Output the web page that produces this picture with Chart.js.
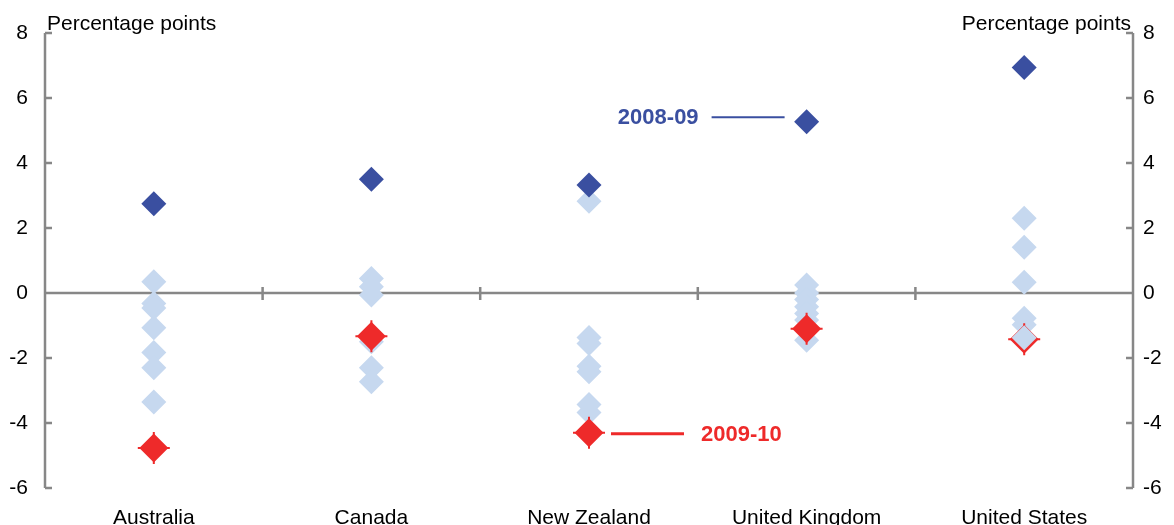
<!DOCTYPE html>
<html><head><meta charset="utf-8">
<script src="https://cdn.jsdelivr.net/npm/chart.js@4.4.1/dist/chart.umd.min.js"></script>
<style>html,body{margin:0;padding:0;background:#fff}</style>
</head><body>
<canvas id="c" width="1174" height="525"></canvas>
<script>
const categories = ['Australia', 'Canada', 'New Zealand', 'United Kingdom', 'United States'];
const yTicks = [-6, -4, -2, 0, 2, 4, 6, 8];
const fy0809 = [2.75, 3.5, 3.32, 5.27, 6.94];
const fy0910 = [-4.77, -1.33, -4.3, -1.1, -1.42];
const otherAustralia = [0.35, -0.32, -0.46, -1.07, -1.83, -2.3, -3.35];
const otherCanada = [0.45, 0.19, -0.06, -1.5, -2.3, -2.73];
const otherNewZealand = [2.82, -1.37, -1.55, -2.25, -2.42, -3.43, -3.68];
const otherUK = [0.25, 0, -0.2, -0.42, -0.63, -0.83, -1.45];
const otherUS = [2.3, 1.41, 0.33, -0.78, -0.98];
const otherUSFront = [-1.38];
const titleText = 'Percentage points';
const label0809 = '2008-09';
const label0910 = '2009-10';

const BLUE = '#3A4FA0', LIGHT = '#C6D8EF', RED = '#EE2A2A', GREY = '#878787';
const FONT = '"Liberation Sans", Arial, sans-serif';

const toPts = (cat, arr) => arr.map(v => ({x: cat, y: v}));
const lightPts = [].concat(
  toPts(categories[0], otherAustralia),
  toPts(categories[1], otherCanada),
  toPts(categories[2], otherNewZealand),
  toPts(categories[3], otherUK),
  toPts(categories[4], otherUS)
);
const bluePts = fy0809.map((v, i) => ({x: categories[i], y: v}));
const redPts = fy0910.map((v, i) => ({x: categories[i], y: v}));
const frontPts = toPts(categories[4], otherUSFront);

function ds(label, data, style, radius, color, bw) {
  return {label, data, showLine: false, pointStyle: style, pointRadius: radius, pointHoverRadius: radius,
    pointBackgroundColor: color, pointBorderColor: color, pointBorderWidth: bw || 0,
    backgroundColor: color, borderColor: color};
}

const decor = {
  id: 'decor',
  beforeDatasetsDraw(chart) {
    const {ctx, chartArea: a, scales: {x, y}} = chart;
    ctx.save();
    ctx.strokeStyle = GREY;
    ctx.lineWidth = 2.5;
    const top = y.getPixelForValue(yTicks[yTicks.length - 1]);
    const bot = y.getPixelForValue(yTicks[0]);
    ctx.beginPath();
    ctx.moveTo(a.left, top); ctx.lineTo(a.left, bot);
    ctx.moveTo(a.right, top); ctx.lineTo(a.right, bot);
    yTicks.forEach(t => {
      const py = y.getPixelForValue(t);
      ctx.moveTo(a.left, py); ctx.lineTo(a.left + 7, py);
      ctx.moveTo(a.right, py); ctx.lineTo(a.right - 7, py);
    });
    const zy = y.getPixelForValue(0);
    ctx.moveTo(a.left, zy); ctx.lineTo(a.right, zy);
    for (let i = 0; i < categories.length - 1; i++) {
      const px = (x.getPixelForValue(i) + x.getPixelForValue(i + 1)) / 2;
      ctx.moveTo(px, zy - 6); ctx.lineTo(px, zy + 7);
    }
    ctx.stroke();
    ctx.restore();
  },
  afterDraw(chart) {
    const {ctx, chartArea: a, scales: {x, y}} = chart;
    ctx.save();
    ctx.fillStyle = '#000';
    ctx.font = '21px ' + FONT;
    ctx.textBaseline = 'alphabetic';
    ctx.textAlign = 'left';
    ctx.fillText(titleText, a.left + 2, 30);
    ctx.textAlign = 'right';
    ctx.fillText(titleText, a.right - 2, 30);

    // 2008-09 label pointing to UK
    const ukX = x.getPixelForValue(3);
    const by = y.getPixelForValue(fy0809[3]) - 4.5;
    ctx.strokeStyle = BLUE; ctx.lineWidth = 2;
    ctx.beginPath(); ctx.moveTo(ukX - 95, by); ctx.lineTo(ukX - 22, by); ctx.stroke();
    ctx.fillStyle = BLUE; ctx.font = 'bold 22px ' + FONT;
    ctx.textAlign = 'right'; ctx.textBaseline = 'middle';
    ctx.fillText(label0809, ukX - 108, by + 1);

    // 2009-10 label pointing to New Zealand
    const nzX = x.getPixelForValue(2);
    const ry = y.getPixelForValue(fy0910[2]) + 1;
    ctx.strokeStyle = RED; ctx.lineWidth = 3;
    ctx.beginPath(); ctx.moveTo(nzX + 22, ry); ctx.lineTo(nzX + 95, ry); ctx.stroke();
    ctx.fillStyle = RED; ctx.textAlign = 'left';
    ctx.fillText(label0910, nzX + 112, ry + 1);
    ctx.restore();
  }
};

new Chart(document.getElementById('c'), {
  type: 'line',
  data: {
    labels: categories,
    datasets: [
      ds('front', frontPts, 'rectRot', 12.5, LIGHT),
      ds('2009-10', redPts, 'rectRot', 14.5, RED),
      ds('2009-10 cross', redPts, 'cross', 16, RED, 2),
      ds('2008-09', bluePts, 'rectRot', 12.5, BLUE),
      ds('others', lightPts, 'rectRot', 12.5, LIGHT)
    ]
  },
  options: {
    responsive: false,
    animation: false,
    devicePixelRatio: 1,
    layout: {padding: {top: 33, left: 0, right: 0, bottom: 0}},
    plugins: {legend: {display: false}, tooltip: {enabled: false}},
    events: [],
    scales: {
      x: {
        type: 'category', offset: true,
        grid: {display: false, drawTicks: false}, border: {display: false},
        ticks: {color: '#000', font: {family: FONT, size: 21}, padding: 18, maxRotation: 0, autoSkip: false},
        afterFit: s => { s.height = 37; }
      },
      y: {
        position: 'left', min: -6, max: 8,
        grid: {display: false, drawTicks: false}, border: {display: false},
        ticks: {stepSize: 2, color: '#000', font: {family: FONT, size: 21}, padding: 17},
        afterFit: s => { s.width = 45; }
      },
      y2: {
        position: 'right', min: -6, max: 8,
        grid: {display: false, drawTicks: false}, border: {display: false},
        ticks: {stepSize: 2, color: '#000', font: {family: FONT, size: 21}, padding: 10},
        afterFit: s => { s.width = 41; }
      }
    }
  },
  plugins: [decor]
});
</script>
</body></html>
